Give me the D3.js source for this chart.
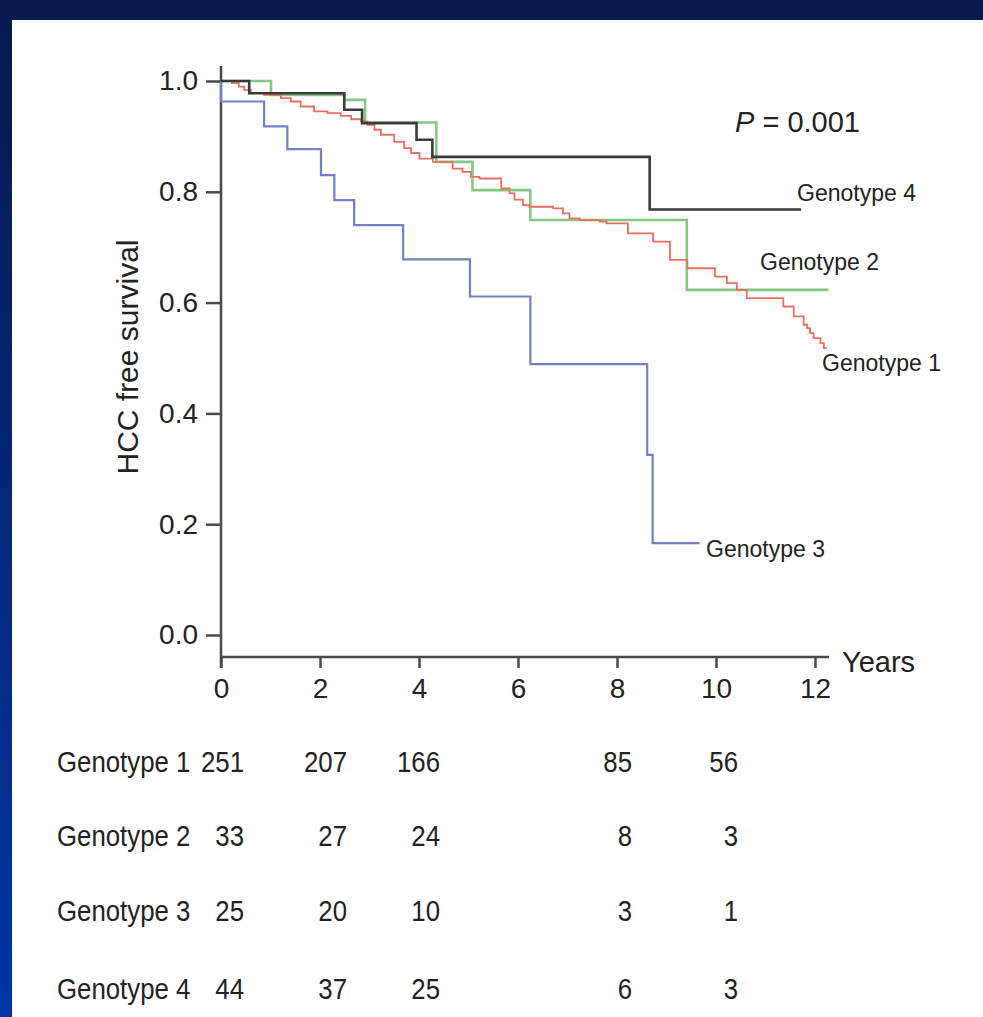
<!DOCTYPE html>
<html>
<head>
<meta charset="utf-8">
<script src="https://cdn.jsdelivr.net/npm/d3@7"></script>
<style>
  html, body { margin: 0; padding: 0; }
  body { width: 983px; height: 1017px; overflow: hidden; }
</style>
</head>
<body>
<svg id="chart" width="983" height="1017"></svg>
<script>
// ---------------- data ----------------
const categories = ["Genotype 1", "Genotype 2", "Genotype 3", "Genotype 4"];

// Kaplan–Meier steps: time of drop (years) and survival after the drop
const g1Time = [0.22,0.36,0.47,0.60,0.87,1.21,1.41,1.61,1.88,2.15,2.42,2.63,2.83,2.96,3.10,3.23,3.50,3.70,3.84,4.01,4.28,4.68,4.88,5.05,5.22,5.66,5.83,5.93,6.10,6.23,6.71,6.91,7.04,7.25,7.65,7.79,8.22,8.73,9.07,9.42,9.98,10.22,10.42,10.62,11.36,11.57,11.77,11.84,11.90,11.97,12.11,12.18];
const g1Surv = [0.996,0.990,0.984,0.978,0.975,0.969,0.963,0.954,0.945,0.942,0.937,0.931,0.927,0.921,0.912,0.903,0.890,0.879,0.870,0.860,0.854,0.842,0.836,0.827,0.824,0.806,0.797,0.786,0.776,0.773,0.770,0.761,0.752,0.749,0.746,0.743,0.725,0.710,0.677,0.662,0.647,0.635,0.623,0.608,0.593,0.575,0.560,0.554,0.545,0.536,0.527,0.518];
const g1End = 12.24;

const g2Time = [1.01,2.49,2.91,4.35,5.08,6.25,9.41];
const g2Surv = [0.975,0.966,0.925,0.854,0.803,0.749,0.623];
const g2End = 12.27;

const g3Time = [0.0,0.87,1.34,2.02,2.29,2.69,3.68,5.03,6.25,8.61,8.72];
const g3Surv = [0.963,0.918,0.877,0.830,0.785,0.740,0.678,0.611,0.489,0.325,0.166];
const g3End = 9.67;

const g4Time = [0.57,2.49,2.85,3.95,4.27,8.66];
const g4Surv = [0.978,0.948,0.924,0.894,0.863,0.768];
const g4End = 11.72;

const xTicks = [0, 2, 4, 6, 8, 10, 12];
const yTicks = [0.0, 0.2, 0.4, 0.6, 0.8, 1.0];

// numbers at risk
const riskYears = [0, 2, 4, 8, 10];
const risk1 = [251, 207, 166, 85, 56];
const risk2 = [33, 27, 24, 8, 3];
const risk3 = [25, 20, 10, 3, 1];
const risk4 = [44, 37, 25, 6, 3];

// ---------------- drawing ----------------
const svg = d3.select("#chart");
const defs = svg.append("defs");
const grad = defs.append("linearGradient").attr("id", "bg").attr("x1", 0).attr("y1", 0).attr("x2", 0).attr("y2", 1);
grad.append("stop").attr("offset", "0%").attr("stop-color", "#08194f");
grad.append("stop").attr("offset", "100%").attr("stop-color", "#0036a6");
svg.append("rect").attr("width", 983).attr("height", 1017).attr("fill", "url(#bg)");
svg.append("rect").attr("x", 12).attr("y", 20).attr("width", 971).attr("height", 997).attr("fill", "#ffffff");

const font = "'Liberation Sans', Arial, Helvetica, sans-serif";
const textCol = "#222";
const axisCol = "#4a4a4a";

const x = d3.scaleLinear().domain([0, 12]).range([221, 815]);
const y = d3.scaleLinear().domain([0, 1]).range([635, 81]);

// Y axis
const yAxis = d3.axisLeft(y).tickValues(yTicks).tickFormat(d3.format(".1f")).tickSize(15).tickSizeOuter(0).tickPadding(8);
const gy = svg.append("g").attr("transform", "translate(221,0)").call(yAxis);
gy.select(".domain").remove();
gy.selectAll(".tick line").attr("stroke", axisCol).attr("stroke-width", 2.5);
gy.selectAll(".tick text").attr("font-family", font).attr("font-size", 28).attr("fill", textCol);
svg.append("line").attr("x1", 221).attr("x2", 221).attr("y1", 66).attr("y2", 668)
  .attr("stroke", axisCol).attr("stroke-width", 2.5);

// X axis
const xAxis = d3.axisBottom(x).tickValues(xTicks).tickFormat(d3.format("d")).tickSize(11).tickSizeOuter(0).tickPadding(10);
const gx = svg.append("g").attr("transform", "translate(0,657)").call(xAxis);
gx.select(".domain").remove();
gx.selectAll(".tick line").attr("stroke", axisCol).attr("stroke-width", 2.5);
gx.selectAll(".tick text").attr("font-family", font).attr("font-size", 28).attr("fill", textCol);
svg.append("line").attr("x1", 221).attr("x2", 829).attr("y1", 657).attr("y2", 657)
  .attr("stroke", axisCol).attr("stroke-width", 2.5);

svg.append("text").attr("x", 842).attr("y", 672).attr("font-family", font).attr("font-size", 29)
  .attr("fill", textCol).text("Years");

svg.append("text").attr("transform", "translate(138,357) rotate(-90)").attr("text-anchor", "middle")
  .attr("font-family", font).attr("font-size", 30).attr("fill", textCol).text("HCC free survival");

const pText = svg.append("text").attr("x", 735).attr("y", 132).attr("font-family", font).attr("font-size", 29).attr("fill", textCol);
pText.append("tspan").attr("font-style", "italic").text("P");
pText.append("tspan").text(" = 0.001");

// curves
function stepPoints(times, surv, end) {
  const pts = [[0, 1]];
  times.forEach((t, i) => pts.push([t, surv[i]]));
  pts.push([end, surv[surv.length - 1]]);
  return pts;
}
const line = d3.line().x(d => x(d[0])).y(d => y(d[1])).curve(d3.curveStepAfter);

const series = [
  { name: categories[2], pts: stepPoints(g3Time, g3Surv, g3End), color: "#7381c4", w: 2.2 },
  { name: categories[1], pts: stepPoints(g2Time, g2Surv, g2End), color: "#86c883", w: 2.6 },
  { name: categories[0], pts: stepPoints(g1Time, g1Surv, g1End), color: "#e9705f", w: 1.8 },
  { name: categories[3], pts: stepPoints(g4Time, g4Surv, g4End), color: "#3a3a3a", w: 2.6 }
];
svg.append("g").selectAll("path").data(series).join("path")
  .attr("d", d => line(d.pts)).attr("fill", "none")
  .attr("stroke", d => d.color).attr("stroke-width", d => d.w);

// curve labels
const labelPos = { "Genotype 4": [797, 201], "Genotype 2": [760, 270], "Genotype 1": [822, 371], "Genotype 3": [706, 557] };
categories.forEach(c => {
  svg.append("text").attr("x", labelPos[c][0]).attr("y", labelPos[c][1])
    .attr("font-family", font).attr("font-size", 23).attr("fill", textCol).text(c);
});

// risk table (condensed look via horizontal scaling)
const riskRows = [risk1, risk2, risk3, risk4];
const rowY = [772, 846, 921, 999];
const colOffset = [23, 27, 21, 15, 22];
const sx = 0.86;
riskRows.forEach((row, r) => {
  svg.append("text").attr("transform", `translate(57,${rowY[r]}) scale(${sx},1)`)
    .attr("font-family", font).attr("font-size", 30).attr("fill", textCol).text(categories[r]);
  row.forEach((v, i) => {
    svg.append("text").attr("transform", `translate(${x(riskYears[i]) + colOffset[i]},${rowY[r]}) scale(${sx},1)`)
      .attr("text-anchor", "end").attr("font-family", font).attr("font-size", 30)
      .attr("fill", textCol).text(v);
  });
});
</script>
</body>
</html>
